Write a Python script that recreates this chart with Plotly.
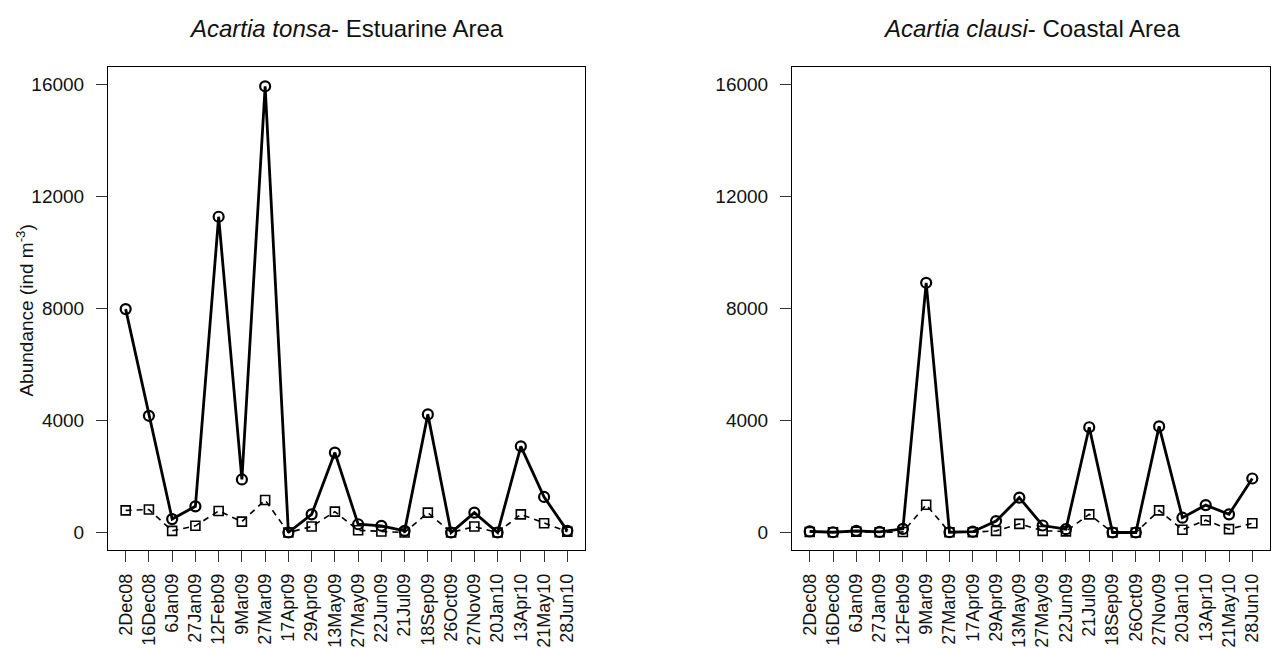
import plotly.graph_objects as go

dates = ["2Dec08", "16Dec08", "6Jan09", "27Jan09", "12Feb09", "9Mar09", "27Mar09",
         "17Apr09", "29Apr09", "13May09", "27May09", "22Jun09", "21Jul09", "18Sep09",
         "26Oct09", "27Nov09", "20Jan10", "13Apr10", "21May10", "28Jun10"]

# Acartia tonsa - Estuarine Area
tonsa_circle = [7980, 4170, 480, 935, 11280, 1895, 15940, 0, 650, 2855, 295, 240, 60,
                4220, 0, 710, 0, 3080, 1270, 60]
tonsa_square = [790, 820, 60, 240, 770, 390, 1160, 0, 213, 745, 80, 35, 0,
                710, 0, 213, 0, 650, 330, 30]

# Acartia clausi - Coastal Area
clausi_circle = [40, 10, 60, 20, 130, 8920, 10, 30, 410, 1245, 250, 120, 3760,
                 0, 0, 3790, 530, 980, 650, 1930]
clausi_square = [20, 10, 30, 10, 20, 990, 10, 10, 60, 310, 60, 40, 650,
                 0, 0, 790, 100, 440, 120, 330]

titles = ["<i>Acartia tonsa</i>- Estuarine Area", "<i>Acartia clausi</i>- Coastal Area"]
y_ticks = [0, 4000, 8000, 12000, 16000]

FONT = "Liberation Sans, Arial, sans-serif"
idx = list(range(1, len(dates) + 1))

fig = go.Figure()
panels = [(tonsa_circle, tonsa_square), (clausi_circle, clausi_square)]
for p, (circ, sq) in enumerate(panels):
    xa = "x" if p == 0 else "x2"
    ya = "y" if p == 0 else "y2"
    fig.add_trace(go.Scatter(
        x=idx, y=sq, xaxis=xa, yaxis=ya, mode="lines+markers",
        line=dict(color="black", width=1.6, dash="6px,5px"),
        marker=dict(symbol="square-open", size=9, color="black", line=dict(width=1.6, color="black")),
        showlegend=False, hoverinfo="skip"))
    fig.add_trace(go.Scatter(
        x=idx, y=circ, xaxis=xa, yaxis=ya, mode="lines+markers",
        line=dict(color="black", width=2.8),
        marker=dict(symbol="circle-open", size=10, color="black", line=dict(width=2.2, color="black")),
        showlegend=False, hoverinfo="skip"))

W, H = 1272, 648
left_dom = [108 / W, 585 / W]
right_dom = [792 / W, 1270 / W]
ydom = [1 - 553 / H, 1 - 67 / H]

axis_common = dict(
    showgrid=False, zeroline=False, showline=True, linecolor="black", linewidth=1,
    mirror=True, ticks="outside", ticklen=11, tickcolor="#333", tickwidth=1,
    tickfont=dict(family=FONT, size=18, color="#111"),
)
xcommon = dict(axis_common, tickmode="array", tickvals=idx, ticktext=dates,
               tickangle=-90, range=[0.24, len(dates) + 0.76], ticklabelstandoff=4)
ycommon = dict(axis_common, tickmode="array", tickvals=y_ticks,
               ticktext=[str(v) for v in y_ticks], range=[-640, 16640], ticklabelstandoff=8,
               tickfont=dict(family=FONT, size=19, color="#111"))

fig.update_layout(
    width=W, height=H, margin=dict(l=0, r=0, t=0, b=0),
    plot_bgcolor="white", paper_bgcolor="white",
    xaxis=dict(xcommon, domain=left_dom, anchor="y"),
    yaxis=dict(ycommon, domain=ydom, anchor="x"),
    xaxis2=dict(xcommon, domain=right_dom, anchor="y2"),
    yaxis2=dict(ycommon, domain=ydom, anchor="x2"),
    font=dict(family=FONT, color="#111"),
)

centers = [(left_dom[0] + left_dom[1]) / 2, (right_dom[0] + right_dom[1]) / 2]
for c, t in zip(centers, titles):
    fig.add_annotation(text=t, x=c, y=1 - 29 / H, xref="paper", yref="paper",
                       xanchor="center", yanchor="middle", showarrow=False,
                       font=dict(family=FONT, size=24, color="#111"))

fig.add_annotation(text="Abundance (ind m<sup>-3</sup>)", x=25 / W, y=1 - 312 / H,
                   xref="paper", yref="paper", xanchor="center", yanchor="middle",
                   textangle=-90, showarrow=False,
                   font=dict(family=FONT, size=19, color="#111"))

fig.write_html("out.html", config={"displayModeBar": False},
               post_script="document.body.style.margin='0';document.body.style.overflow='hidden';")
